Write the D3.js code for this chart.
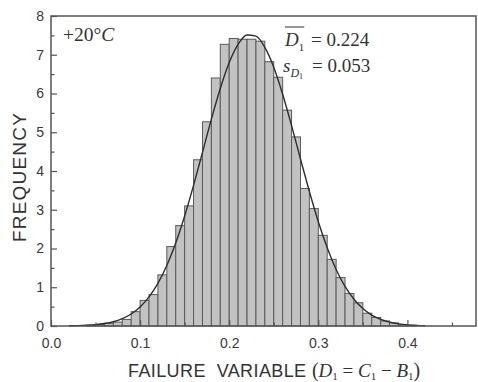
<!DOCTYPE html>
<html>
<head>
<meta charset="utf-8">
<script src="https://cdn.jsdelivr.net/npm/d3@7/dist/d3.min.js"></script>
<style>
  body { margin: 0; background: #fff; }
  svg { display: block; }
  .tick text { font-family: "Liberation Sans", Arial, sans-serif; font-size: 14px; fill: #3a3a3a; }
  .tick line { stroke: #555; stroke-width: 1.2; }
</style>
</head>
<body>
<svg id="chart"></svg>
<script>
// histogram bins (left edge of each 0.01 wide bin)
const binStarts = [0.04, 0.05, 0.06, 0.07, 0.08, 0.09, 0.10, 0.11, 0.12, 0.13,
  0.14, 0.15, 0.16, 0.17, 0.18, 0.19, 0.20, 0.21, 0.22, 0.23, 0.24, 0.25, 0.26,
  0.27, 0.28, 0.29, 0.30, 0.31, 0.32, 0.33, 0.34, 0.35, 0.36, 0.37, 0.38, 0.39, 0.40];
const frequency = [0.02, 0.04, 0.07, 0.10, 0.17, 0.37, 0.66, 0.81, 1.32, 2.05,
  2.59, 3.10, 4.29, 5.27, 6.40, 7.27, 7.42, 7.40, 7.40, 7.35, 6.82, 6.42, 5.57,
  4.88, 3.55, 3.03, 2.34, 1.72, 1.25, 0.84, 0.60, 0.33, 0.22, 0.13, 0.08, 0.04, 0.02];
const binWidth = 0.01;

// fitted curve
const curveX = [0.02, 0.03, 0.04, 0.05, 0.06, 0.07, 0.08, 0.09, 0.10, 0.11, 0.12,
  0.13, 0.14, 0.15, 0.16, 0.17, 0.18, 0.19, 0.20, 0.21, 0.22, 0.23, 0.24, 0.25,
  0.26, 0.27, 0.28, 0.29, 0.30, 0.31, 0.32, 0.33, 0.34, 0.35, 0.36, 0.37, 0.38,
  0.39, 0.40, 0.41, 0.42];
const curveY = [0.005, 0.009, 0.018, 0.034, 0.063, 0.11, 0.19, 0.31, 0.49, 0.75, 1.10,
  1.56, 2.14, 2.84, 3.63, 4.48, 5.34, 6.13, 6.80, 7.27, 7.51, 7.48, 7.19, 6.68,
  5.98, 5.17, 4.31, 3.47, 2.69, 2.02, 1.46, 1.02, 0.69, 0.45, 0.28, 0.17, 0.10,
  0.056, 0.03, 0.016, 0.008];

// ticks
const xMajor = [0.0, 0.1, 0.2, 0.3, 0.4];
const xMinor = [0.05, 0.15, 0.25, 0.35, 0.45];
const yMajor = [0, 1, 2, 3, 4, 5, 6, 7, 8];
const yMinor = [0.5, 1.5, 2.5, 3.5, 4.5, 5.5, 6.5, 7.5];

const meanText = "= 0.224";
const sdText = "= 0.053";

const svgWidth = 478, svgHeight = 382;
const plotLeft = 51, plotRight = 476, plotTop = 16, plotBottom = 326;

const svg = d3.select("#chart")
  .attr("width", svgWidth)
  .attr("height", svgHeight);

const x = d3.scaleLinear().domain([0, 0.477]).range([plotLeft, plotRight]);
const y = d3.scaleLinear().domain([0, 8]).range([plotBottom, plotTop]);

// bars
svg.append("g")
  .selectAll("rect")
  .data(binStarts)
  .enter()
  .append("rect")
  .attr("x", d => x(d))
  .attr("width", d => x(d + binWidth) - x(d))
  .attr("y", (d, i) => y(frequency[i]))
  .attr("height", (d, i) => y(0) - y(frequency[i]))
  .attr("fill", "#c2c2c2")
  .attr("stroke", "#5a5a5a")
  .attr("stroke-width", 1);

// fitted curve
const line = d3.line()
  .x(d => x(d[0]))
  .y(d => y(d[1]))
  .curve(d3.curveMonotoneX);

svg.append("path")
  .datum(curveX.map((v, i) => [v, curveY[i]]))
  .attr("d", line)
  .attr("fill", "none")
  .attr("stroke", "#2e2e2e")
  .attr("stroke-width", 1.4);

// axes, ticks pointing inward
svg.append("g")
  .attr("transform", `translate(0,${plotBottom})`)
  .call(d3.axisBottom(x).tickValues(xMajor).tickFormat(d3.format(".1f"))
    .tickSizeInner(-6).tickSizeOuter(0).tickPadding(12))
  .call(g => g.select(".domain").remove());

svg.append("g")
  .attr("transform", `translate(0,${plotBottom})`)
  .call(d3.axisBottom(x).tickValues(xMinor).tickFormat("")
    .tickSizeInner(-3.5).tickSizeOuter(0))
  .call(g => g.select(".domain").remove());

svg.append("g")
  .attr("transform", `translate(${plotLeft},0)`)
  .call(d3.axisLeft(y).tickValues(yMajor).tickFormat(d3.format("d"))
    .tickSizeInner(-6).tickSizeOuter(0).tickPadding(7))
  .call(g => g.select(".domain").remove());

svg.append("g")
  .attr("transform", `translate(${plotLeft},0)`)
  .call(d3.axisLeft(y).tickValues(yMinor).tickFormat("")
    .tickSizeInner(-3.5).tickSizeOuter(0))
  .call(g => g.select(".domain").remove());

// frame
svg.append("rect")
  .attr("x", plotLeft)
  .attr("y", plotTop)
  .attr("width", plotRight - plotLeft)
  .attr("height", plotBottom - plotTop)
  .attr("fill", "none")
  .attr("stroke", "#555")
  .attr("stroke-width", 1.5);

const serif = "'Liberation Serif', 'Times New Roman', serif";
const sans = "'Liberation Sans', Arial, sans-serif";

// temperature
const temp = svg.append("text")
  .attr("x", 63)
  .attr("y", 41)
  .attr("font-family", serif)
  .attr("font-size", 19.5)
  .attr("fill", "#333");
temp.append("tspan").text("+20°");
temp.append("tspan").attr("font-style", "italic").text("C");

// mean
const dbar = svg.append("text")
  .attr("x", 285)
  .attr("y", 46)
  .attr("font-family", serif)
  .attr("font-size", 19)
  .attr("fill", "#333");
dbar.append("tspan").attr("font-style", "italic").text("D");
dbar.append("tspan").attr("font-size", 11).attr("dy", 5).text("1");
const bb = dbar.node().getBBox();
svg.append("line")
  .attr("x1", bb.x + 1).attr("x2", bb.x + bb.width)
  .attr("y1", 27).attr("y2", 27)
  .attr("stroke", "#333").attr("stroke-width", 1);

svg.append("text")
  .attr("x", 311).attr("y", 46)
  .attr("font-family", serif).attr("font-size", 19).attr("fill", "#333")
  .text(meanText);

// standard deviation
const sd = svg.append("text")
  .attr("x", 283)
  .attr("y", 72)
  .attr("font-family", serif)
  .attr("font-size", 19)
  .attr("fill", "#333");
sd.append("tspan").attr("font-style", "italic").text("s");
sd.append("tspan").attr("font-style", "italic").attr("font-size", 12).attr("dy", 5).text("D");
sd.append("tspan").attr("font-size", 8).attr("dy", 2).text("1");

svg.append("text")
  .attr("x", 312).attr("y", 72)
  .attr("font-family", serif).attr("font-size", 19).attr("fill", "#333")
  .text(sdText);

// axis titles
const xt = svg.append("text")
  .attr("x", 128)
  .attr("y", 377)
  .attr("font-size", 18)
  .attr("fill", "#333");
xt.append("tspan").attr("font-family", sans).attr("letter-spacing", 0.4).text("FAILURE\u00a0\u00a0VARIABLE ");
xt.append("tspan").attr("font-family", serif).attr("font-size", 20).text("(");
xt.append("tspan").attr("font-family", serif).attr("font-size", 19).attr("font-style", "italic").text("D");
xt.append("tspan").attr("font-family", serif).attr("font-size", 11).attr("dy", 3).text("1");
xt.append("tspan").attr("font-family", serif).attr("font-size", 19).attr("dy", -3).text(" = ");
xt.append("tspan").attr("font-family", serif).attr("font-size", 19).attr("font-style", "italic").text("C");
xt.append("tspan").attr("font-family", serif).attr("font-size", 11).attr("dy", 3).text("1");
xt.append("tspan").attr("font-family", serif).attr("font-size", 19).attr("dy", -3).text(" \u2212 ");
xt.append("tspan").attr("font-family", serif).attr("font-size", 19).attr("font-style", "italic").text("B");
xt.append("tspan").attr("font-family", serif).attr("font-size", 11).attr("dy", 3).text("1");
xt.append("tspan").attr("font-family", serif).attr("font-size", 20).attr("dy", -3).text(")");

svg.append("text")
  .attr("transform", "translate(26,177) rotate(-90)")
  .attr("text-anchor", "middle")
  .attr("font-family", sans)
  .attr("font-size", 19)
  .attr("letter-spacing", 1.2)
  .attr("fill", "#333")
  .text("FREQUENCY");
</script>
</body>
</html>
